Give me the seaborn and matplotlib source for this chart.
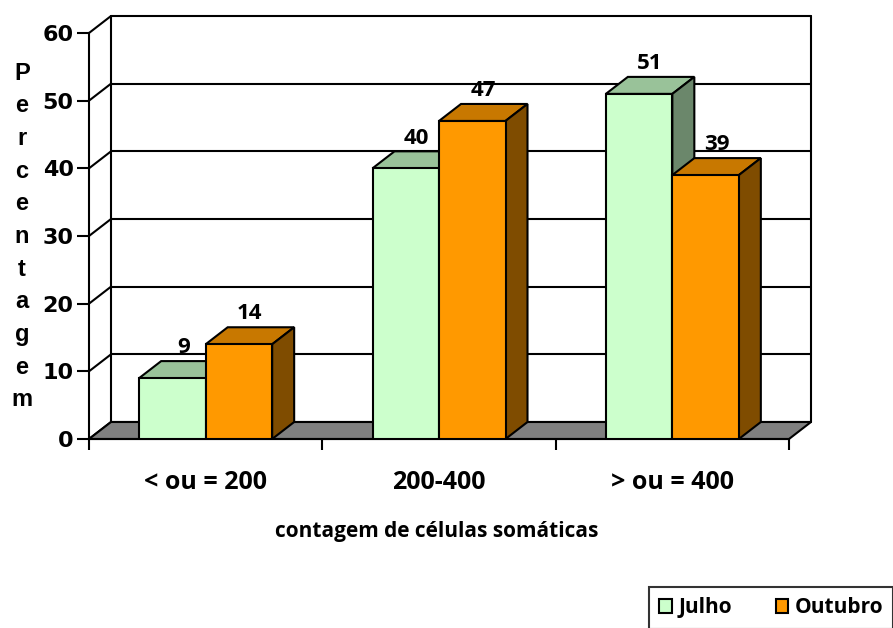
import matplotlib
matplotlib.use("Agg")
import matplotlib.pyplot as plt
from matplotlib.patches import Polygon, Patch, Rectangle
import seaborn as sns
import pandas as pd

categories = ["< ou = 200", "200-400", "> ou = 400"]
series_names = ["Julho", "Outubro"]
julho = [9, 40, 51]
outubro = [14, 47, 39]
y_ticks = [0, 10, 20, 30, 40, 50, 60]
y_label = "Percentagem"
x_label = "contagem de células somáticas"

front_colors = ["#CCFFCC", "#FF9900"]
top_colors = ["#99C299", "#C87800"]
side_colors = ["#6B876B", "#7F4C00"]

df = pd.DataFrame({
    "cat": categories * 2,
    "mes": [series_names[0]] * 3 + [series_names[1]] * 3,
    "val": julho + outubro,
})

sns.set_theme(style="white")
plt.rcParams["font.family"] = ["DejaVu Sans"]
plt.rcParams.update({"text.color": "black", "axes.labelcolor": "black",
                     "xtick.color": "black", "ytick.color": "black"})

W, H = 893, 628
fig = plt.figure(figsize=(W / 100, H / 100), dpi=100)
ax = fig.add_axes([89 / W, (H - 439) / H, 700 / W, 406 / H])

sns.barplot(data=df, x="cat", y="val", hue="mes", order=categories,
            hue_order=series_names, palette=front_colors, width=0.57,
            saturation=1, edgecolor="black", linewidth=1.5, ax=ax,
            legend=False, zorder=5)
bars = [p for p in ax.patches if isinstance(p, Rectangle) and p.get_height() > 0]

ax.set_xlim(-0.5, 2.5)
ax.set_ylim(0, 60)
ax.patch.set_alpha(0)

# depth offset (pixels converted to data units)
DX = 22 / (700 / 3.0)
DY = 17 / (406 / 60.0)

LW = 1.5
# floor
ax.add_patch(Polygon([(-0.5, 0), (2.5, 0), (2.5 + DX, DY), (-0.5 + DX, DY)],
                     closed=True, fc="#808080", ec="black", lw=LW,
                     clip_on=False, zorder=2))
# back wall gridlines and edges
for v in y_ticks:
    ax.plot([-0.5 + DX, 2.5 + DX], [v + DY, v + DY], color="black", lw=LW,
            clip_on=False, zorder=1)
    ax.plot([-0.5, -0.5 + DX], [v, v + DY], color="black", lw=LW,
            clip_on=False, zorder=1)
for xe in (-0.5 + DX, 2.5 + DX):
    ax.plot([xe, xe], [DY, 60 + DY], color="black", lw=LW, clip_on=False,
            zorder=1)

# 3D tops and sides on bars
for i, p in enumerate(bars):
    s = 0 if i < 3 else 1
    x0, w, h = p.get_x(), p.get_width(), p.get_height()
    z = 6 + s * 2
    ax.add_patch(Polygon([(x0, h), (x0 + w, h), (x0 + w + DX, h + DY), (x0 + DX, h + DY)],
                         closed=True, fc=top_colors[s], ec="black", lw=LW,
                         clip_on=False, zorder=z))
    ax.add_patch(Polygon([(x0 + w, 0), (x0 + w + DX, DY), (x0 + w + DX, h + DY), (x0 + w, h)],
                         closed=True, fc=side_colors[s], ec="black", lw=LW,
                         clip_on=False, zorder=z))
    p.set_zorder(z + 0.5)
    ax.annotate(str(int(round(h))), (x0 + w / 2 + DX / 2, h + DY),
                xytext=(0, 2), textcoords="offset points", ha="center",
                va="bottom", fontsize=16, fontweight="bold",
                family=["Open Sans", "DejaVu Sans"], color="black",
                zorder=20, annotation_clip=False)

# spines & ticks
for sp in ("top", "right"):
    ax.spines[sp].set_visible(False)
for sp in ("left", "bottom"):
    ax.spines[sp].set_color("black")
    ax.spines[sp].set_linewidth(LW)
    ax.spines[sp].set_zorder(3)
ax.set_yticks(y_ticks)
ax.set_yticklabels([str(v) for v in y_ticks], fontsize=16, fontweight="bold")
ax.tick_params(axis="y", direction="out", length=9, width=LW, pad=2,
               colors="black", left=True)
ax.set_xticks([0, 1, 2])
ax.set_xticklabels(categories, fontsize=18, fontweight="bold",
                   family=["Open Sans", "DejaVu Sans"])
ax.set_xticks([-0.5, 0.5, 1.5, 2.5], minor=True)
ax.tick_params(axis="x", which="major", length=0, pad=22, colors="black")
ax.tick_params(axis="x", which="minor", direction="out", length=8, width=LW,
               bottom=True, colors="black")
ax.set_xlabel("")
ax.set_ylabel("")
ax.grid(False)

# vertical stacked y label
top_y, bot_y = 73, 400
n = len(y_label)
for k, ch in enumerate(y_label):
    yy = top_y + (bot_y - top_y) * k / (n - 1)
    fig.text(22 / W, 1 - yy / H, ch, ha="center", va="center", fontsize=17,
             fontweight="bold", family=["Liberation Sans", "DejaVu Sans"],
             color="black")

fig.text(437 / W, 1 - 532 / H, x_label, ha="center", va="center",
         fontsize=15, fontweight="bold", family=["Open Sans", "DejaVu Sans"],
         color="black")

handles = [Patch(fc=front_colors[i], ec="black", lw=1.5, label=series_names[i])
           for i in range(2)]
leg = fig.legend(handles=handles, loc="upper left",
                 bbox_to_anchor=(649 / W, 1 - 587 / H), ncol=2,
                 frameon=True, fancybox=False, borderaxespad=0,
                 handlelength=0.6, handleheight=0.6, handletextpad=0.3,
                 columnspacing=2.1, borderpad=0.5,
                 prop={"family": ["Open Sans", "DejaVu Sans"], "weight": "bold", "size": 15})
leg.get_frame().set_edgecolor("black")
leg.get_frame().set_linewidth(1.5)
for t in leg.get_texts():
    t.set_color("black")

fig.savefig("out.png", dpi=100)
